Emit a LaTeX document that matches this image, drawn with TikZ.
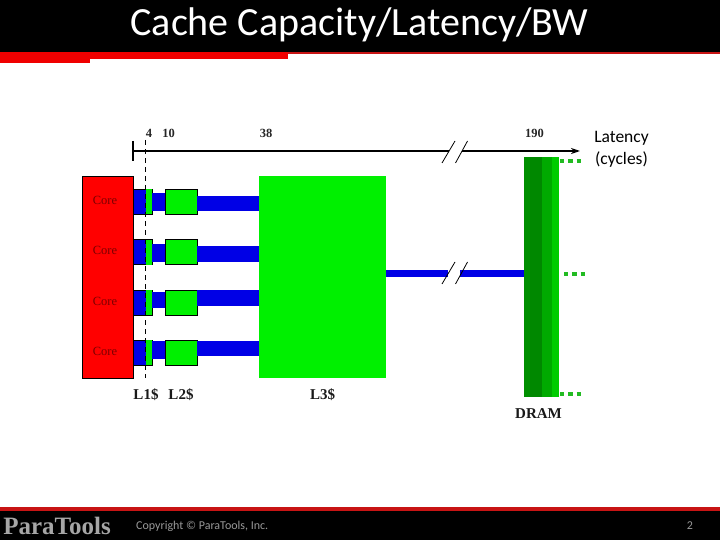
\documentclass[tikz,border=0pt]{standalone}
\usepackage{fontspec}
\usetikzlibrary{arrows.meta}
\setmainfont{Liberation Serif}
\newfontfamily\slidefont{Carlito}
\definecolor{barred}{HTML}{F00000}
\definecolor{darkbarred}{HTML}{C81414}
\definecolor{coreink}{HTML}{7A0000}
\definecolor{cblue}{HTML}{0000E6}
\definecolor{cgreen}{HTML}{00F000}
\definecolor{dotgreen}{HTML}{22BB22}
\definecolor{dramA}{HTML}{009000}
\definecolor{dramB}{HTML}{008800}
\definecolor{dramC}{HTML}{00AA00}
\definecolor{dramD}{HTML}{00CC00}
\tikzset{
  x=1pt,y=-1pt,
  box/.style={draw=black,line width=0.6pt,inner sep=0pt,outer sep=0pt,anchor=north west},
  corebox/.style={box,fill=red,minimum width=51pt,minimum height=202pt},
  lthreebox/.style={inner sep=0pt,outer sep=0pt,anchor=north west,fill=cgreen,minimum width=127pt,minimum height=202pt},
  lone/.style={box,fill=cblue,minimum width=19pt,minimum height=25pt},
  lonegreen/.style={inner sep=0pt,outer sep=0pt,anchor=north west,fill=cgreen,minimum width=6pt,minimum height=25pt},
  ltwo/.style={box,fill=cgreen,minimum width=32pt,minimum height=25pt},
  corelabel/.style={text=coreink,font=\fontsize{12.5}{14}\selectfont,inner sep=0pt},
  axlabel/.style={font=\fontsize{12.5}{14}\selectfont\bfseries,inner sep=0pt,text=black!85},
  cachelabel/.style={font=\fontsize{15}{17}\selectfont\bfseries,inner sep=0pt,text=black!90},
  axis/.style={line width=1.5pt,black},
  slash/.style={line width=0.8pt,black},
  dots/.style={dotgreen,line width=4pt,dash pattern=on 4.3pt off 4pt},
  slidetext/.style={font=\slidefont\fontsize{17.5}{22}\selectfont,align=center,inner sep=0pt},
  foottext/.style={font=\slidefont\fontsize{12}{14}\selectfont,text=black!40,inner sep=0pt},
}
\begin{document}
\begin{tikzpicture}
\useasboundingbox (0,0) rectangle (720,540);
\fill[white] (0,0) rectangle (720,540);
% header
\fill[black] (0,0) rectangle (720,52);
\fill[darkbarred] (0,52) rectangle (720,54.5);
\fill[barred] (0,52) rectangle (288,58.7);
\fill[barred] (0,58.7) rectangle (90,63);
\node[font=\slidefont\fontsize{40}{44}\selectfont,text=white,inner sep=0pt] (title) at (359.5,25) {Cache Capacity/Latency/BW};
% footer
\fill[darkbarred] (0,506.7) rectangle (720,511);
\fill[black] (0,511) rectangle (720,540);
\node[font=\fontsize{25}{27}\selectfont\bfseries,text=black!35,inner sep=0pt] (logo) at (57,526) {ParaTools};
\node[foottext,anchor=west] (copyright) at (136,526) {Copyright © ParaTools, Inc.};
\node[foottext] (pagenum) at (690,526) {2};
% axis
\coordinate (axstart) at (133,151);
\coordinate (axbreakA) at (449,151);
\coordinate (axbreakB) at (462,151);
\coordinate (axend) at (580,151);
\coordinate (tickT) at (133,141);
\coordinate (tickB) at (133,161);
\coordinate (dashT) at (145.5,140);
\coordinate (dashB) at (145.5,378);
% main blocks
\node[corebox] (core) at (82.5,176) {};
\node[lthreebox] (lthree) at (259,176) {};
% rows: top, link top/bottom, long link top/bottom
\foreach \n/\t/\lt/\lb/\ft/\fb in {1/189.5/193/210.7/196/210.7,2/239.5/244/261.7/246/261.5,3/290/291.7/308/290/305.7,4/340.2/341/359.3/341/356}{
  \node[lone] (lone\n) at (133,\t) {};
  \node[lonegreen] (lonegreen\n) at (146,\t) {};
  \node[ltwo] (ltwo\n) at (165,\t) {};
  \fill[cblue] (lone\n.east |- 0,\lt) rectangle (ltwo\n.west |- 0,\lb);
  \fill[cblue] (ltwo\n.east |- 0,\ft) rectangle (lthree.west |- 0,\fb);
}
% DRAM
\node[inner sep=0pt,outer sep=0pt,anchor=north west,fill=dramB,minimum width=35pt,minimum height=240pt] (dram) at (524,157) {};
\fill[dramA] (524,157) rectangle (530,397);
\fill[dramC] (541.5,157) rectangle (552,397);
\fill[dramD] (552,157) rectangle (559,397);
% link L3 to DRAM
\coordinate (lnk) at (386,273.3);
\coordinate (lnkA) at (448,273.3);
\coordinate (lnkB) at (460,273.3);
\draw[cblue,line width=6.6pt] (lthree.east |- lnk) -- (lnkA);
\draw[cblue,line width=6.6pt] (lnkB) -- (dram.west |- lnk);
% axis drawing
\draw[axis] (tickT) -- (tickB);
\draw[axis] (axstart) -- (axbreakA);
\draw[axis,-{Stealth[length=9pt,width=6pt]}] (axbreakB) -- (axend);
\draw[black,line width=0.8pt,dash pattern=on 5pt off 4pt] (dashT) -- (dashB);
% break marks
\draw[slash] (442,163) -- (455,141);
\draw[slash] (455.5,163) -- (467.5,141);
\draw[slash] (442,284) -- (455,262);
\draw[slash] (455.5,284) -- (467.5,262);
% dots
\draw[dots] (560,160.7) -- (582,160.7);
\draw[dots] (564,274) -- (585,274);
\draw[dots] (560,393.7) -- (582,393.7);
% labels
\node[corelabel] (coreA) at (105,200.5) {Core};
\node[corelabel] (coreB) at (105,250.5) {Core};
\node[corelabel] (coreC) at (105,301) {Core};
\node[corelabel] (coreD) at (105,351) {Core};
\node[axlabel] (tA) at (149,133.5) {4};
\node[axlabel] (tB) at (168.5,133.5) {10};
\node[axlabel] (tC) at (266,133.5) {38};
\node[axlabel] (tD) at (534.5,133.5) {190};
\node[cachelabel] (lA) at (146,395) {L1\$};
\node[cachelabel] (lB) at (181,395) {L2\$};
\node[cachelabel] (lC) at (322.5,395) {L3\$};
\node[cachelabel] (lD) at (538.5,414) {DRAM};
\node[slidetext] (latency) at (621.5,149.5) {Latency\\(cycles)};
\end{tikzpicture}
\end{document}
